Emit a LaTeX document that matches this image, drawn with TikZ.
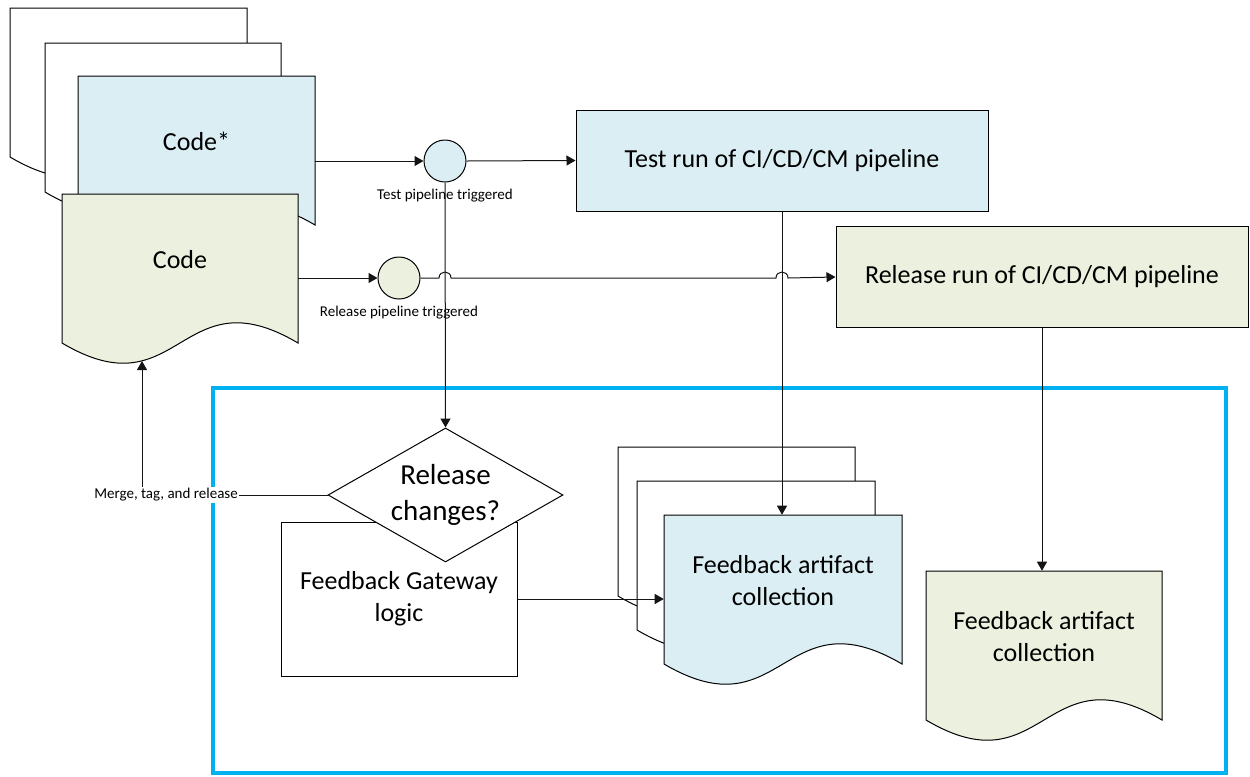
\documentclass[tikz,border=0pt]{standalone}
\usepackage{fontspec}
\setmainfont{Carlito}
\definecolor{codeblue}{RGB}{218,238,243}
\definecolor{codegreen}{RGB}{235,241,222}
\definecolor{frameblue}{RGB}{0,176,240}
\definecolor{lineclr}{RGB}{20,20,20}
\usepackage{tikz}
\usetikzlibrary{shapes.geometric, arrows.meta, positioning, calc}
\newcommand{\mainfnt}{\fontsize{19.5}{23.8}\selectfont}
\newcommand{\bigfnt}{\fontsize{21.75}{26.5}\selectfont}
\newcommand{\smallfnt}{\fontsize{11.25}{13.5}\selectfont}
\tikzset{
    docline/.style={draw=black, line width=0.75pt},
    doctext/.style={rectangle, align=center, inner sep=0pt, font=\mainfnt},
    runbox/.style={rectangle, draw=black, line width=0.75pt, minimum width=309pt, minimum height=75.75pt, align=center, font=\mainfnt},
    trigger/.style={circle, draw=black, line width=0.75pt, minimum size=31.5pt, inner sep=0pt},
    triglabel/.style={font=\smallfnt, inner sep=1pt},
    gatebox/.style={rectangle, draw=black, fill=white, line width=0.75pt, minimum width=177pt, minimum height=115.5pt, align=center, font=\mainfnt},
    decision/.style={diamond, aspect=1.754, draw=black, fill=white, line width=0.75pt, minimum width=176.25pt, minimum height=100.5pt, inner sep=0pt, align=center, font=\bigfnt},
    arrow/.style={line width=0.75pt, lineclr, -{Triangle[length=6.75pt, width=7.5pt]}},
    plainline/.style={line width=0.75pt, lineclr},
    feedbackframe/.style={draw=frameblue, line width=3pt}
}
% document shape: name, fill, left, top, right, bottom of the sides, text
\newcommand{\docnode}[7]{%
  \draw[docline, fill=#2] (#3,#4) -- (#5,#4) -- (#5,#6)
    .. controls ({(#3+#5)/2},{#6-70}) and ({(#3+#5)/2},{#6+70}) .. (#3,#6) -- cycle;
  \node[doctext, minimum width={(#5-#3)*0.75pt}, minimum height={(#6-#4-18)*0.75pt}]
    (#1) at ({(#3+#5)/2},{(#4+#6-18)/2}) {#7};
}

\begin{document}
\begin{tikzpicture}[x=0.75pt, y=-0.75pt]
    \useasboundingbox (0,0) rectangle (1250,776);
    % feedback area
    \draw[feedbackframe] (213,388) rectangle (1226,773);

    % code documents
    \docnode{codeback}{white}{10}{8}{247}{157}{}
    \docnode{codemid}{white}{45}{43}{281}{192}{}
    \docnode{codestar}{codeblue}{78}{76}{315}{225}{Code*}
    \docnode{code}{codegreen}{62}{194}{298}{343}{Code}

    % feedback artifact documents
    \docnode{fbback}{white}{618}{447}{855}{596}{}
    \docnode{fbmid}{white}{637}{481}{875}{630}{}
    \docnode{fbtest}{codeblue}{664}{515}{902}{664}{Feedback artifact\\collection}
    \docnode{fbrel}{codegreen}{926}{571}{1162}{720}{Feedback artifact\\collection}

    % pipeline runs
    \node[runbox, fill=codeblue] (testrun) at (782,160.5) {Test run of CI/CD/CM pipeline};
    \node[runbox, fill=codegreen] (relrun) at (1042,277) {Release run of CI/CD/CM pipeline};

    % triggers
    \node[trigger, fill=codeblue] (testtrig) at (445,161) {};
    \node[triglabel, below=3.5pt of testtrig] (testlbl) {Test pipeline triggered};
    \node[trigger, fill=codegreen] (reltrig) at (399,278) {};
    \node[triglabel, below=3.5pt of reltrig] (rellbl) {Release pipeline triggered};

    % gateway
    \node[gatebox] (gateway) at (399,599) {Feedback Gateway\\logic};
    \node[decision] (decide) at (445.5,495) {Release\\changes?};
    \node[triglabel, fill=white] (mergelbl) at (166,495) {Merge, tag, and release};
    \coordinate (codebot) at (142,361);
    \coordinate (jump1) at (reltrig -| testtrig);
    \coordinate (jump2) at (reltrig -| testrun);

    % connectors
    \draw[arrow] (testtrig -| codestar.east) -- (testtrig.west);
    \draw[arrow] (testtrig.east) -- (testrun.west);
    \draw[arrow] (reltrig -| code.east) -- (reltrig.west);
    \draw[arrow] (reltrig.east) -- ($(jump1)+(-6,0)$) .. controls +(0,-8) and +(0,-8) .. ($(jump1)+(6,0)$)
        -- ($(jump2)+(-6,0)$) .. controls +(0,-8) and +(0,-8) .. ($(jump2)+(6,0)$) -- (relrun.west);
    \draw[arrow] (testtrig.south) -- (decide.north);
    \draw[arrow] (testrun.south) -- (testrun.south |- fbtest.north);
    \draw[arrow] (relrun.south) -- (relrun.south |- fbrel.north);
    \draw[arrow] (gateway.east) -- (gateway.east -| fbtest.west);
    \draw[plainline] (decide.west) -- (mergelbl.east);
    \draw[arrow] (mergelbl.north -| codebot) -- (codebot);
\end{tikzpicture}
\end{document}
